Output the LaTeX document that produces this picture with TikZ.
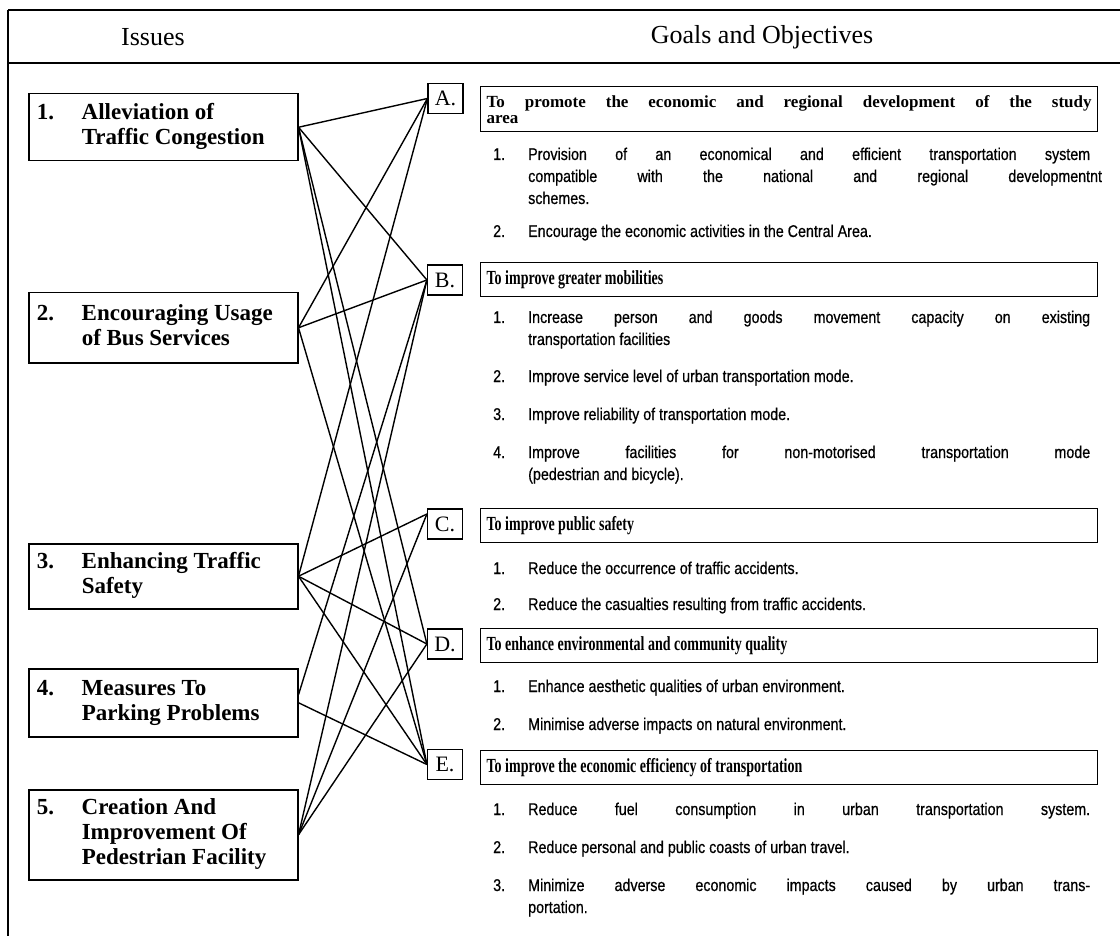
\documentclass[tikz,border=0pt]{standalone}
\usepackage{fontspec}
\setmainfont{Liberation Serif}
\newfontfamily\hdfont[FakeStretch=0.7]{Liberation Serif}
\newfontfamily\itmfont[FakeStretch=0.84,FakeBold=0.6]{Liberation Sans}
\newlength\itmw
\setlength\itmw{562pt}
\newlength\goalw
\setlength\goalw{605pt}
\newlength\issw
\setlength\issw{253pt}
% a justified (spread-out) line of an objective
\newcommand\jline[1]{\makebox[\itmw][s]{#1}}
% number and two- or three-line title of an issue
\newcommand\isstext[1]{\makebox[\issw][l]{\begin{tabular}{@{}p{45pt}@{}l@{}}#1\end{tabular}}}
\begin{document}
\begin{tikzpicture}[x=1pt,y=-1pt,
  frame/.style={line width=1.6pt},
  colhead/.style={inner sep=0pt, font=\fontsize{26}{26}\selectfont},
  issuebox/.style={draw, line width=1.5pt, anchor=north west, minimum width=269pt,
    inner xsep=8pt, inner ysep=0pt,
    font=\bfseries\fontsize{23}{25}\selectfont},
  letterbox/.style={draw, line width=1.2pt, minimum width=35pt, minimum height=30pt,
    inner sep=0pt, font=\fontsize{22}{22}\selectfont},
  goalbox/.style={draw, line width=1.3pt, anchor=north west, minimum height=34pt,
    inner xsep=6pt, inner ysep=0pt,
    font=\hdfont\bfseries\fontsize{20}{19}\selectfont},
  itemnum/.style={anchor=base west, inner sep=0pt, font=\itmfont\fontsize{17}{22}\selectfont},
  itemtext/.style={anchor=base west, inner sep=0pt, font=\itmfont\fontsize{17}{22}\selectfont},
  conn/.style={line width=1.4pt}
]
\useasboundingbox (0,0) rectangle (1120,936);

% outer frame and column heading rule
\draw[frame] (8,10) -- (1120,10);
\draw[frame] (8,63) -- (1120,63);
\draw[frame] (8,10) -- (8,936);
\node[colhead] (hissues) at (153,37) {Issues};
\node[colhead] (hgoals) at (762,37) {Goals and Objectives};

% issues
\node[issuebox, minimum height=67pt] (i1) at (28,93)
  {\isstext{1.&Alleviation of\\&Traffic Congestion}};
\node[issuebox, minimum height=70pt] (i2) at (28,292)
  {\isstext{2.&Encouraging Usage\\&of Bus Services}};
\node[issuebox, minimum height=65pt] (i3) at (28,543)
  {\isstext{3.&Enhancing Traffic\\&Safety}};
\node[issuebox, minimum height=68pt] (i4) at (28,668)
  {\isstext{4.&Measures To\\&Parking Problems}};
\node[issuebox, minimum height=90pt] (i5) at (28,789)
  {\isstext{5.&Creation And\\&Improvement Of\\&Pedestrian Facility}};

% goal letters
\node[letterbox] (A) at (445.5,98.5) {A.};
\node[letterbox] (B) at (445,280) {B.};
\node[letterbox] (C) at (445,524) {C.};
\node[letterbox] (D) at (445,644) {D.};
\node[letterbox] (E) at (445,764.5) {E.};

% goal statements
\node[goalbox, minimum height=45pt, font=\bfseries\fontsize{17}{16}\selectfont] (gA) at (480,86)
  {\parbox{\goalw}{\makebox[\goalw][s]{To promote the economic and regional development of the study}\\area}};
\node[goalbox] (gB) at (480,262) {\makebox[\goalw][l]{To improve greater mobilities}};
\node[goalbox] (gC) at (480,508) {\makebox[\goalw][l]{To improve public safety}};
\node[goalbox] (gD) at (480,628) {\makebox[\goalw][l]{To enhance environmental and community quality}};
\node[goalbox] (gE) at (480,750) {\makebox[\goalw][l]{To improve the economic efficiency of transportation}};

% objectives under A
\node[itemnum] (a1n) at (493,160) {1.};
\node[itemtext] (a1t) at (528,160) {\parbox[t]{\itmw}{%
  \jline{Provision of an economical and efficient transportation system}\\
  \jline{compatible with the national and regional development}\rlap{nt}\\
  schemes.}};
\node[itemnum] (a2n) at (493,237) {2.};
\node[itemtext] (a2t) at (528,237) {Encourage the economic activities in the Central Area.};

% objectives under B
\node[itemnum] (b1n) at (493,323) {1.};
\node[itemtext] (b1t) at (528,323) {\parbox[t]{\itmw}{%
  \jline{Increase person and goods movement capacity on existing}\\
  transportation facilities}};
\node[itemnum] (b2n) at (493,382) {2.};
\node[itemtext] (b2t) at (528,382) {Improve service level of urban transportation mode.};
\node[itemnum] (b3n) at (493,420) {3.};
\node[itemtext] (b3t) at (528,420) {Improve reliability of transportation mode.};
\node[itemnum] (b4n) at (493,458) {4.};
\node[itemtext] (b4t) at (528,458) {\parbox[t]{\itmw}{%
  \jline{Improve facilities for non-motorised transportation mode}\\
  (pedestrian and bicycle).}};

% objectives under C
\node[itemnum] (c1n) at (493,574) {1.};
\node[itemtext] (c1t) at (528,574) {Reduce the occurrence of traffic accidents.};
\node[itemnum] (c2n) at (493,610) {2.};
\node[itemtext] (c2t) at (528,610) {Reduce the casualties resulting from traffic accidents.};

% objectives under D
\node[itemnum] (d1n) at (493,692) {1.};
\node[itemtext] (d1t) at (528,692) {Enhance aesthetic qualities of urban environment.};
\node[itemnum] (d2n) at (493,730) {2.};
\node[itemtext] (d2t) at (528,730) {Minimise adverse impacts on natural environment.};

% objectives under E
\node[itemnum] (e1n) at (493,815) {1.};
\node[itemtext] (e1t) at (528,815) {\jline{Reduce fuel consumption in urban transportation system.}};
\node[itemnum] (e2n) at (493,853) {2.};
\node[itemtext] (e2t) at (528,853) {Reduce personal and public coasts of urban travel.};
\node[itemnum] (e3n) at (493,891) {3.};
\node[itemtext] (e3t) at (528,891) {\parbox[t]{\itmw}{%
  \jline{Minimize adverse economic impacts caused by urban trans-}\\
  portation.}};

% links between issues and goals
\draw[conn] (i1.east) -- (A.west);
\draw[conn] (i1.east) -- (B.west);
\draw[conn] (i1.east) -- (D.west);
\draw[conn] (i1.east) -- (E.west);
\draw[conn] (i2.east) -- (A.west);
\draw[conn] (i2.east) -- (B.west);
\draw[conn] (i2.east) -- (E.west);
\draw[conn] (i3.east) -- (A.west);
\draw[conn] (i3.east) -- ([yshift=10pt]C.west);
\draw[conn] (i3.east) -- (D.west);
\draw[conn] (i3.east) -- (E.west);
\draw[conn] ([yshift=8pt]i4.east) -- (B.west);
\draw[conn] (i4.east) -- (E.west);
\draw[conn] (i5.east) -- (B.west);
\draw[conn] (i5.east) -- ([yshift=10pt]C.west);
\draw[conn] (i5.east) -- (D.west);
\end{tikzpicture}
\end{document}
